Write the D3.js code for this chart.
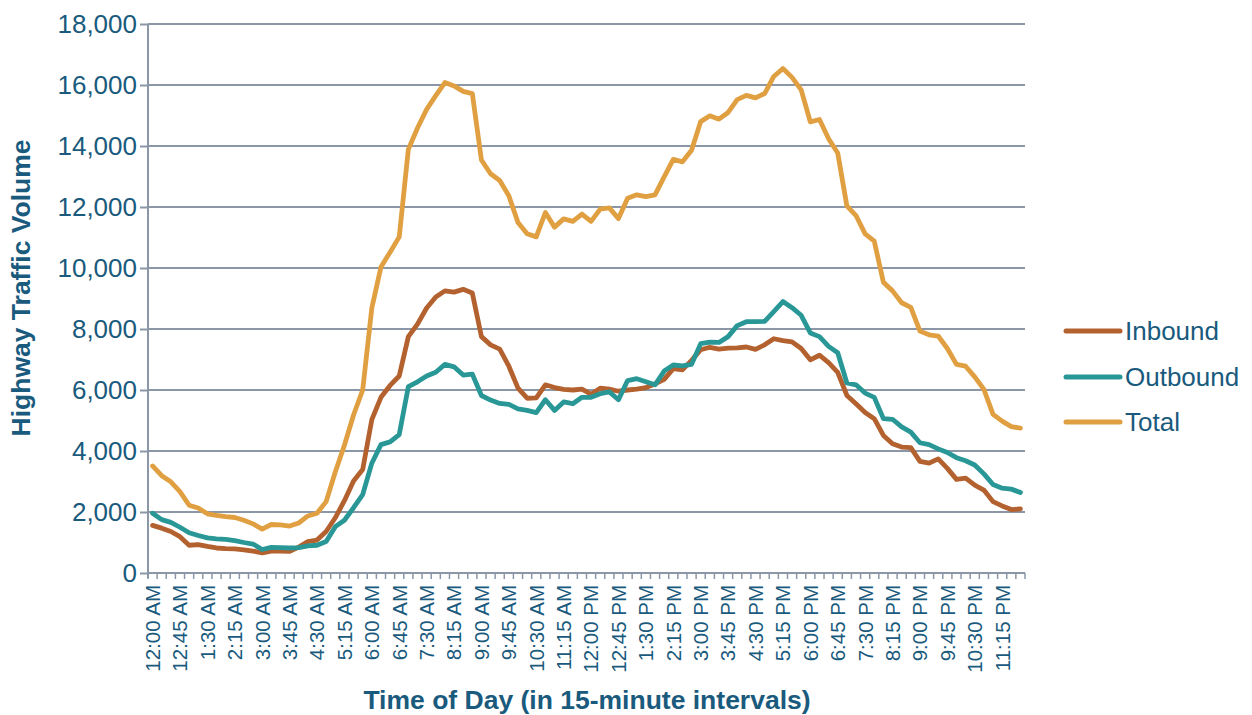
<!DOCTYPE html>
<html>
<head>
<meta charset="utf-8">
<script src="https://cdn.jsdelivr.net/npm/d3@7"></script>
<style>
  html, body { margin: 0; padding: 0; background: #fff; }
  svg { display: block; font-family: "Liberation Sans", Arial, sans-serif; }
</style>
</head>
<body>
<svg id="chart" width="1252" height="715"></svg>
<script>
const categories = [
  "12:00 AM","12:15 AM","12:30 AM","12:45 AM","1:00 AM","1:15 AM","1:30 AM","1:45 AM",
  "2:00 AM","2:15 AM","2:30 AM","2:45 AM","3:00 AM","3:15 AM","3:30 AM","3:45 AM",
  "4:00 AM","4:15 AM","4:30 AM","4:45 AM","5:00 AM","5:15 AM","5:30 AM","5:45 AM",
  "6:00 AM","6:15 AM","6:30 AM","6:45 AM","7:00 AM","7:15 AM","7:30 AM","7:45 AM",
  "8:00 AM","8:15 AM","8:30 AM","8:45 AM","9:00 AM","9:15 AM","9:30 AM","9:45 AM",
  "10:00 AM","10:15 AM","10:30 AM","10:45 AM","11:00 AM","11:15 AM","11:30 AM","11:45 AM",
  "12:00 PM","12:15 PM","12:30 PM","12:45 PM","1:00 PM","1:15 PM","1:30 PM","1:45 PM",
  "2:00 PM","2:15 PM","2:30 PM","2:45 PM","3:00 PM","3:15 PM","3:30 PM","3:45 PM",
  "4:00 PM","4:15 PM","4:30 PM","4:45 PM","5:00 PM","5:15 PM","5:30 PM","5:45 PM",
  "6:00 PM","6:15 PM","6:30 PM","6:45 PM","7:00 PM","7:15 PM","7:30 PM","7:45 PM",
  "8:00 PM","8:15 PM","8:30 PM","8:45 PM","9:00 PM","9:15 PM","9:30 PM","9:45 PM",
  "10:00 PM","10:15 PM","10:30 PM","10:45 PM","11:00 PM","11:15 PM","11:30 PM","11:45 PM"
];

const inbound = [
  1560,1470,1360,1190,910,930,870,820,800,790,760,720,660,720,720,710,
  850,1030,1080,1360,1810,2370,3020,3390,5030,5760,6150,6460,7750,8160,8690,9050,
  9250,9210,9300,9180,7750,7480,7340,6780,6060,5730,5740,6170,6080,6020,6000,6030,
  5860,6060,6030,5960,6000,6030,6080,6200,6350,6700,6660,6970,7320,7400,7340,7370,
  7380,7410,7330,7480,7680,7620,7580,7360,6990,7140,6900,6580,5820,5550,5260,5060,
  4510,4240,4130,4110,3660,3600,3740,3430,3070,3110,2880,2720,2340,2200,2080,2100
];

const outbound = [
  1960,1750,1660,1500,1320,1230,1150,1120,1100,1060,1000,950,770,840,830,820,
  830,890,910,1030,1520,1730,2140,2570,3600,4210,4300,4540,6110,6270,6460,6580,
  6840,6760,6490,6520,5820,5670,5560,5530,5380,5330,5260,5680,5330,5610,5550,5760,
  5760,5880,5940,5680,6310,6370,6270,6170,6620,6820,6790,6840,7520,7570,7560,7750,
  8110,8240,8240,8250,8570,8900,8700,8450,7870,7750,7430,7220,6230,6170,5900,5760,
  5060,5040,4790,4620,4270,4210,4070,3950,3780,3680,3540,3250,2900,2780,2750,2640
];

const total = [
  3510,3190,2990,2670,2220,2130,1940,1890,1850,1820,1730,1610,1440,1590,1580,1540,
  1640,1870,1960,2340,3310,4190,5180,6000,8690,10030,10520,11020,13890,14590,15200,15650,
  16080,15970,15790,15720,13540,13090,12870,12370,11490,11120,11020,11820,11340,11610,11530,11770,
  11530,11930,11970,11620,12290,12400,12340,12400,12990,13560,13480,13860,14800,14990,14880,15100,
  15520,15660,15580,15720,16280,16540,16250,15840,14790,14870,14240,13770,12040,11720,11120,10880,
  9530,9250,8860,8710,7930,7810,7770,7360,6840,6780,6430,6020,5200,4980,4800,4750
];

const yTicks = [0, 2000, 4000, 6000, 8000, 10000, 12000, 14000, 16000, 18000];
const seriesNames = ["Inbound", "Outbound", "Total"];
const seriesColors = ["#b3612f", "#2a9797", "#e0a042"];
const seriesData = [inbound, outbound, total];

const textColor = "#195a7d";
const gridColor = "#8b97a6";

const svg = d3.select("#chart");
const mLeft = 148, mRight = 1025, mTop = 24, mBottom = 573;

const x = d3.scaleBand().domain(categories).range([mLeft, mRight]).padding(0);
const y = d3.scaleLinear().domain([0, 18000]).range([mBottom, mTop]);
const cx = d => x(d) + x.bandwidth() / 2;

// Gridlines
svg.append("g")
  .selectAll("line")
  .data(yTicks.filter(v => v > 0))
  .join("line")
  .attr("x1", mLeft).attr("x2", mRight)
  .attr("y1", d => y(d)).attr("y2", d => y(d))
  .attr("stroke", gridColor).attr("stroke-width", 2);

// Y axis
const yAxis = svg.append("g")
  .attr("transform", `translate(${mLeft},0)`)
  .call(d3.axisLeft(y).tickValues(yTicks).tickSize(8).tickPadding(3).tickFormat(d3.format(",")));
yAxis.select(".domain").attr("stroke", gridColor).attr("stroke-width", 2)
  .attr("d", `M0,${mTop}V${mBottom + 5}`);
yAxis.selectAll(".tick line").attr("stroke", gridColor).attr("stroke-width", 2);
yAxis.selectAll(".tick text").attr("fill", textColor).style("font-size", "26px");

// X axis line and category boundary ticks
svg.append("line")
  .attr("x1", mLeft).attr("x2", mRight)
  .attr("y1", mBottom).attr("y2", mBottom)
  .attr("stroke", gridColor).attr("stroke-width", 2);
const boundaries = categories.map(c => x(c)).concat([mRight]);
svg.append("g")
  .selectAll("line")
  .data(boundaries)
  .join("line")
  .attr("x1", d => d).attr("x2", d => d)
  .attr("y1", mBottom).attr("y2", mBottom + 6)
  .attr("stroke", gridColor).attr("stroke-width", 1.5);

// X tick labels (every 3rd category)
const labelCats = categories.filter((c, i) => i % 3 === 0);
svg.append("g")
  .selectAll("text")
  .data(labelCats)
  .join("text")
  .attr("transform", d => `translate(${cx(d)},${mBottom + 12}) rotate(-90)`)
  .attr("text-anchor", "end")
  .attr("dy", "0.36em")
  .attr("fill", textColor)
  .style("font-size", "20.5px")
  .text(d => d);

// Lines
const line = d3.line().x((d, i) => cx(categories[i])).y(d => y(d));
seriesData.forEach((data, k) => {
  svg.append("path")
    .datum(data)
    .attr("d", line)
    .attr("fill", "none")
    .attr("stroke", seriesColors[k])
    .attr("stroke-width", 4.8)
    .attr("stroke-linejoin", "round")
    .attr("stroke-linecap", "round");
});

// Axis titles
svg.append("text")
  .attr("transform", `translate(30,288) rotate(-90)`)
  .attr("text-anchor", "middle")
  .attr("fill", textColor)
  .style("font-size", "26.5px").style("font-weight", "bold")
  .text("Highway Traffic Volume");

svg.append("text")
  .attr("x", 587).attr("y", 709)
  .attr("text-anchor", "middle")
  .attr("fill", textColor)
  .style("font-size", "26.5px").style("font-weight", "bold")
  .text("Time of Day (in 15-minute intervals)");

// Legend
const legend = svg.append("g");
const legendY = [331, 377, 422];
seriesNames.forEach((name, k) => {
  legend.append("line")
    .attr("x1", 1066).attr("x2", 1120)
    .attr("y1", legendY[k]).attr("y2", legendY[k])
    .attr("stroke", seriesColors[k]).attr("stroke-width", 5)
    .attr("stroke-linecap", "round");
  legend.append("text")
    .attr("x", 1125).attr("y", legendY[k])
    .attr("dy", "0.36em")
    .attr("fill", textColor)
    .style("font-size", "26px")
    .text(name);
});
</script>
</body>
</html>
